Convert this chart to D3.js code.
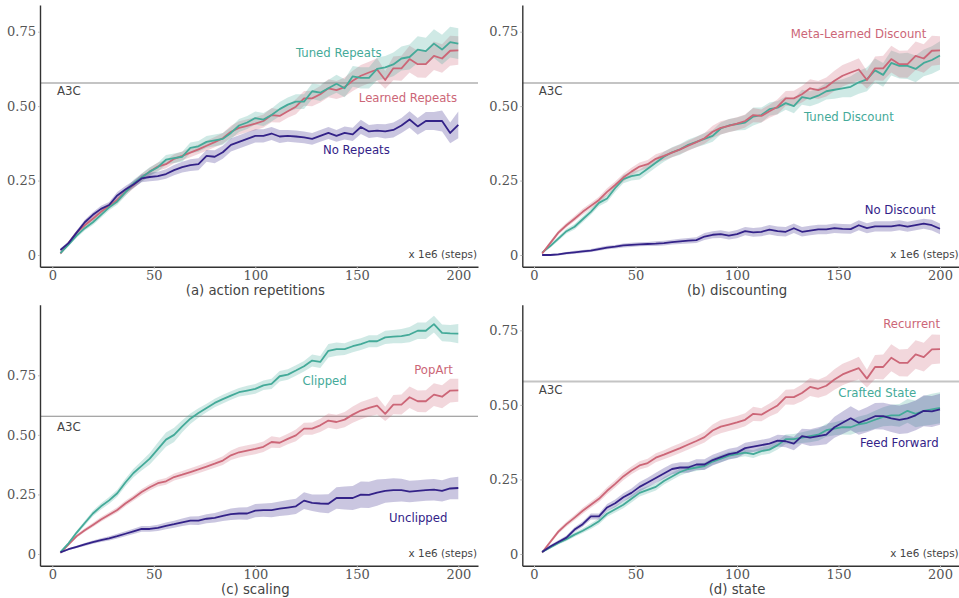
<!DOCTYPE html>
<html><head><meta charset="utf-8">
<script src="https://cdn.jsdelivr.net/npm/d3@7/dist/d3.min.js"></script>
<style>body{margin:0;background:#fff} svg{display:block}</style>
</head><body><svg id="chart" width="959" height="598"></svg>
<script>
// ---------- DATA ----------
const steps = [4,8,12,16,20,24,28,32,36,40,44,48,52,56,60,64,68,72,76,80,84,88,92,96,100,
  104,108,112,116,120,124,128,132,136,140,144,148,152,156,160,164,168,172,176,180,184,188,192,196,200];

// full agent (shown as Learned Repeats / Meta-Learned Discount / PopArt / Recurrent)
const baseline = [0.005,0.04,0.075,0.1,0.122,0.145,0.165,0.185,0.212,0.235,
  0.26,0.28,0.297,0.305,0.323,0.333,0.344,0.355,0.367,0.379,
  0.392,0.414,0.427,0.434,0.441,0.45,0.47,0.467,0.483,0.498,
  0.526,0.526,0.54,0.56,0.554,0.564,0.585,0.602,0.613,0.623,
  0.588,0.627,0.627,0.658,0.641,0.641,0.669,0.66,0.686,0.687];
const baselineSpread = [0.004,0.006,0.007,0.008,0.009,0.01,0.01,0.011,0.012,0.012,
  0.013,0.013,0.014,0.014,0.015,0.015,0.016,0.016,0.017,0.017,
  0.018,0.02,0.022,0.022,0.022,0.022,0.024,0.022,0.022,0.025,
  0.025,0.026,0.028,0.03,0.03,0.032,0.034,0.036,0.036,0.038,
  0.03,0.04,0.042,0.045,0.045,0.046,0.048,0.048,0.05,0.048];

const tunedRepeats = [0.006,0.035,0.065,0.09,0.11,0.135,0.16,0.18,0.21,0.24,
  0.26,0.28,0.295,0.32,0.325,0.33,0.36,0.365,0.38,0.385,
  0.39,0.41,0.435,0.445,0.46,0.455,0.47,0.49,0.505,0.515,
  0.515,0.55,0.545,0.56,0.575,0.56,0.6,0.595,0.595,0.625,
  0.63,0.64,0.66,0.665,0.69,0.685,0.71,0.69,0.715,0.71];
const tunedRepeatsSpread = [0.004,0.006,0.007,0.008,0.009,0.01,0.01,0.011,0.012,0.013,
  0.014,0.015,0.015,0.016,0.016,0.017,0.018,0.018,0.02,0.02,
  0.02,0.02,0.022,0.022,0.022,0.022,0.022,0.024,0.024,0.025,
  0.025,0.026,0.028,0.028,0.03,0.03,0.035,0.036,0.036,0.038,
  0.038,0.04,0.04,0.042,0.045,0.045,0.048,0.05,0.052,0.052];

const noRepeats = [0.017,0.04,0.075,0.11,0.135,0.155,0.168,0.2,0.22,0.237,
  0.257,0.262,0.265,0.272,0.285,0.295,0.302,0.305,0.333,0.33,
  0.345,0.37,0.38,0.39,0.4,0.4,0.408,0.398,0.4,0.398,
  0.395,0.39,0.4,0.41,0.4,0.41,0.405,0.43,0.415,0.418,
  0.415,0.42,0.435,0.455,0.432,0.45,0.45,0.45,0.41,0.437];
const noRepeatsSpread = [0.005,0.006,0.007,0.008,0.009,0.01,0.01,0.012,0.012,0.012,
  0.013,0.014,0.015,0.016,0.017,0.018,0.02,0.02,0.02,0.022,
  0.022,0.022,0.022,0.022,0.022,0.022,0.022,0.022,0.02,0.02,
  0.02,0.02,0.02,0.02,0.02,0.022,0.022,0.024,0.022,0.022,
  0.024,0.025,0.025,0.028,0.028,0.03,0.03,0.035,0.035,0.045];

const tunedDiscount = [0.008,0.03,0.055,0.08,0.095,0.12,0.145,0.175,0.19,0.225,
  0.255,0.265,0.27,0.29,0.31,0.33,0.345,0.355,0.37,0.38,
  0.39,0.4,0.425,0.435,0.44,0.445,0.465,0.47,0.49,0.495,
  0.51,0.5,0.53,0.525,0.535,0.55,0.555,0.56,0.565,0.58,
  0.59,0.62,0.605,0.645,0.635,0.635,0.625,0.645,0.655,0.67];
const tunedDiscountSpread = [0.004,0.006,0.007,0.008,0.009,0.01,0.01,0.011,0.012,0.013,
  0.014,0.015,0.016,0.016,0.016,0.017,0.017,0.018,0.018,0.018,
  0.02,0.02,0.02,0.022,0.022,0.025,0.03,0.025,0.022,0.022,
  0.022,0.024,0.025,0.025,0.026,0.028,0.03,0.03,0.035,0.038,
  0.04,0.04,0.04,0.042,0.042,0.044,0.045,0.045,0.046,0.048];

const noDiscount = [0.0,0.0,0.002,0.006,0.009,0.012,0.015,0.02,0.025,0.028,
  0.032,0.034,0.036,0.037,0.038,0.04,0.043,0.046,0.048,0.05,
  0.062,0.068,0.07,0.065,0.07,0.08,0.076,0.078,0.085,0.08,
  0.078,0.09,0.078,0.082,0.086,0.086,0.09,0.088,0.087,0.1,
  0.09,0.096,0.096,0.096,0.1,0.095,0.1,0.105,0.1,0.088];
const noDiscountSpread = [0.002,0.003,0.004,0.004,0.005,0.005,0.005,0.006,0.006,0.006,
  0.007,0.007,0.007,0.007,0.008,0.008,0.008,0.009,0.009,0.01,
  0.012,0.012,0.013,0.013,0.014,0.014,0.015,0.015,0.016,0.016,
  0.016,0.016,0.016,0.016,0.016,0.016,0.016,0.016,0.016,0.017,
  0.017,0.017,0.017,0.017,0.017,0.017,0.017,0.017,0.018,0.018];

const clipped = [0.008,0.045,0.09,0.13,0.17,0.2,0.225,0.255,0.3,0.34,
  0.37,0.4,0.44,0.48,0.5,0.536,0.568,0.592,0.613,0.634,
  0.65,0.665,0.679,0.686,0.693,0.708,0.714,0.746,0.753,0.77,
  0.788,0.812,0.806,0.853,0.86,0.86,0.872,0.881,0.893,0.893,
  0.909,0.912,0.914,0.921,0.937,0.937,0.965,0.928,0.926,0.925];
const clippedSpread = [0.004,0.006,0.008,0.01,0.012,0.013,0.014,0.015,0.016,0.018,
  0.02,0.024,0.028,0.03,0.03,0.025,0.022,0.02,0.018,0.018,
  0.018,0.018,0.018,0.02,0.02,0.02,0.022,0.022,0.022,0.022,
  0.022,0.025,0.025,0.028,0.028,0.025,0.025,0.025,0.025,0.025,
  0.028,0.028,0.03,0.032,0.035,0.035,0.035,0.035,0.035,0.04];

const unclipped = [0.007,0.02,0.03,0.04,0.05,0.058,0.066,0.075,0.085,0.095,
  0.105,0.105,0.11,0.118,0.125,0.133,0.14,0.14,0.148,0.152,
  0.16,0.167,0.17,0.17,0.182,0.184,0.184,0.19,0.195,0.2,
  0.224,0.215,0.212,0.211,0.235,0.235,0.235,0.249,0.248,0.258,
  0.265,0.268,0.268,0.262,0.265,0.268,0.27,0.265,0.275,0.277];
const unclippedSpread = [0.003,0.004,0.005,0.006,0.007,0.008,0.009,0.01,0.01,0.011,
  0.012,0.012,0.013,0.014,0.015,0.016,0.017,0.018,0.019,0.02,
  0.022,0.024,0.025,0.026,0.028,0.028,0.03,0.03,0.032,0.032,
  0.035,0.035,0.038,0.04,0.045,0.048,0.05,0.055,0.055,0.055,
  0.05,0.05,0.048,0.045,0.045,0.045,0.045,0.045,0.045,0.047];

const feedForward = [0.007,0.025,0.04,0.055,0.082,0.1,0.126,0.126,0.156,0.17,
  0.19,0.205,0.225,0.24,0.255,0.27,0.285,0.29,0.29,0.3,
  0.3,0.315,0.325,0.335,0.34,0.355,0.36,0.365,0.37,0.38,
  0.378,0.37,0.395,0.39,0.395,0.4,0.425,0.44,0.455,0.44,
  0.45,0.462,0.462,0.455,0.45,0.455,0.465,0.48,0.478,0.485];
const feedForwardSpread = [0.003,0.005,0.006,0.007,0.008,0.009,0.01,0.01,0.012,0.013,
  0.014,0.015,0.016,0.016,0.017,0.018,0.018,0.018,0.018,0.018,
  0.018,0.018,0.018,0.018,0.018,0.018,0.018,0.018,0.018,0.02,
  0.02,0.022,0.025,0.028,0.03,0.032,0.035,0.038,0.04,0.04,
  0.042,0.044,0.045,0.046,0.048,0.05,0.05,0.052,0.052,0.052];

const craftedState = [0.007,0.022,0.037,0.05,0.065,0.078,0.093,0.11,0.135,0.15,
  0.165,0.185,0.205,0.215,0.225,0.245,0.26,0.275,0.285,0.29,
  0.295,0.31,0.32,0.33,0.335,0.34,0.335,0.345,0.35,0.365,
  0.385,0.385,0.39,0.395,0.4,0.415,0.42,0.425,0.425,0.435,
  0.44,0.45,0.46,0.465,0.465,0.48,0.47,0.48,0.485,0.49];
const craftedStateSpread = [0.003,0.004,0.005,0.006,0.007,0.008,0.009,0.01,0.01,0.011,
  0.012,0.012,0.012,0.012,0.012,0.012,0.012,0.012,0.012,0.012,
  0.012,0.012,0.012,0.012,0.012,0.012,0.013,0.013,0.014,0.015,
  0.016,0.017,0.018,0.02,0.02,0.022,0.022,0.024,0.025,0.026,
  0.028,0.03,0.032,0.035,0.038,0.04,0.045,0.05,0.052,0.052];

const a3cScore = 0.578;
const xTicks = [0, 50, 100, 150, 200];
const yTicks = [0, 0.25, 0.5, 0.75];
const yTickLabels = ['0', '0.25', '0.50', '0.75'];
const titles = ['(a) action repetitions', '(b) discounting', '(c) scaling', '(d) state'];

// ---------- STYLE / LAYOUT ----------
const colors = {teal: '#44aa99', rose: '#cc6677', indigo: '#332288'};

const panels = [
  {title: titles[0], left: 40, right: 478, x0: 52.3, x200: 458.3, top: 5, bottom: 266.7, zero: 255, p75: 31.7,
   titleY: 295, a3c: 'light', a3cLabelY: 0.551,
   series: [
     {name: 'Learned Repeats', mean: baseline, spread: baselineSpread, color: 'rose', lx: 151, ly: 0.526},
     {name: 'Tuned Repeats', mean: tunedRepeats, spread: tunedRepeatsSpread, color: 'teal', lx: 120, ly: 0.677},
     {name: 'No Repeats', mean: noRepeats, spread: noRepeatsSpread, color: 'indigo', lx: 133.3, ly: 0.35}]},
  {title: titles[1], left: 522.3, right: 960, x0: 534, x200: 940, top: 5, bottom: 266.7, zero: 255, p75: 31.7,
   titleY: 295, a3c: 'light', a3cLabelY: 0.551,
   series: [
     {name: 'Tuned Discount', mean: tunedDiscount, spread: tunedDiscountSpread, color: 'teal', lx: 133, ly: 0.461},
     {name: 'Meta-Learned Discount', mean: baseline, spread: baselineSpread, color: 'rose', lx: 126.5, ly: 0.741},
     {name: 'No Discount', mean: noDiscount, spread: noDiscountSpread, color: 'indigo', lx: 162.9, ly: 0.151}]},
  {title: titles[2], left: 40, right: 478, x0: 52.3, x200: 458.3, top: 304.7, bottom: 565.7, zero: 554, p75: 375.3,
   titleY: 594, a3c: 'dark', a3cLabelY: 0.532,
   series: [
     {name: 'PopArt', mean: baseline, spread: baselineSpread, color: 'rose', lx: 178.3, ly: 0.769},
     {name: 'Clipped', mean: clipped, spread: clippedSpread, color: 'teal', lx: 123.3, ly: 0.722},
     {name: 'Unclipped', mean: unclipped, spread: unclippedSpread, color: 'indigo', lx: 165.9, ly: 0.151}]},
  {title: titles[3], left: 522.3, right: 960, x0: 534, x200: 940, top: 304.7, bottom: 565.7, zero: 554, p75: 330.3,
   titleY: 594, a3c: 'light', a3cLabelY: 0.551,
   series: [
     {name: 'Recurrent', mean: baseline, spread: baselineSpread, color: 'rose', lx: 172, ly: 0.769},
     {name: 'Crafted State', mean: craftedState, spread: craftedStateSpread, color: 'teal', lx: 149.9, ly: 0.537},
     {name: 'Feed Forward', mean: feedForward, spread: feedForwardSpread, color: 'indigo', lx: 160.6, ly: 0.37}]}
];

const svg = d3.select('#chart');

panels.forEach(p => {
  const g = svg.append('g');
  const xc = d3.scaleLinear().domain([0, 200]).range([p.x0, p.x200]);
  const yc = d3.scaleLinear().domain([0, 0.75]).range([p.zero, p.p75]);
  const x = d3.scaleLinear().domain([xc.invert(p.left), xc.invert(p.right)]).range([p.left, p.right]);
  const y = d3.scaleLinear().domain([yc.invert(p.bottom), yc.invert(p.top)]).range([p.bottom, p.top]);

  // A3C reference line
  g.append('line')
    .attr('x1', p.left).attr('x2', p.right)
    .attr('y1', y(a3cScore)).attr('y2', y(a3cScore))
    .attr('stroke', p.a3c === 'dark' ? '#8a8a8a' : '#c4c4c4')
    .attr('stroke-width', p.a3c === 'dark' ? 1.1 : 2);

  const area = d3.area()
    .x((d, i) => x(steps[i]))
    .y0(d => y(d[0] - d[1]))
    .y1(d => y(d[0] + d[1]));
  const line = d3.line().x((d, i) => x(steps[i])).y(d => y(d));

  p.series.forEach(s => {
    const pts = s.mean.map((m, i) => [m, s.spread[i]]);
    g.append('path').attr('d', area(pts))
      .attr('fill', colors[s.color]).attr('fill-opacity', 0.26).attr('stroke', 'none');
  });
  p.series.forEach(s => {
    g.append('path').attr('d', line(s.mean))
      .attr('fill', 'none').attr('stroke', colors[s.color]).attr('stroke-width', 1.8)
      .attr('stroke-linejoin', 'round');
  });
  p.series.forEach(s => {
    g.append('text').text(s.name)
      .attr('x', x(s.lx)).attr('y', y(s.ly)).attr('dy', '0.3em')
      .attr('font-family', 'DejaVu Sans').attr('font-size', 11.7)
      .attr('fill', colors[s.color]);
  });

  // axes
  const yAxis = d3.axisLeft(y).tickValues(yTicks)
    .tickFormat((d, i) => yTickLabels[i]).tickSize(2).tickSizeOuter(0).tickPadding(2);
  const xAxis = d3.axisBottom(x).tickValues(xTicks).tickSize(2).tickSizeOuter(0).tickPadding(2);

  const ya = g.append('g').attr('transform', `translate(${p.left},0)`).call(yAxis);
  const xa = g.append('g').attr('transform', `translate(0,${p.bottom})`).call(xAxis);
  [ya, xa].forEach(a => {
    a.select('.domain').attr('stroke', '#333').attr('stroke-width', 1.4);
    a.selectAll('.tick line').attr('stroke', '#bbb').attr('stroke-width', 1);
    a.selectAll('.tick text').attr('font-family', 'DejaVu Serif').attr('font-size', 13).attr('fill', '#555');
  });

  // A3C label
  g.append('text').text('A3C')
    .attr('x', x(2.3)).attr('y', y(p.a3cLabelY)).attr('dy', '0.36em')
    .attr('font-family', 'DejaVu Sans').attr('font-size', 11.8).attr('fill', '#444');

  // unit label
  g.append('text').text('x 1e6 (steps)')
    .attr('x', x(209.2)).attr('y', y(0)).attr('dy', '0.3em').attr('text-anchor', 'end')
    .attr('font-family', 'DejaVu Sans').attr('font-size', 10.4).attr('fill', '#444');

  // panel title
  g.append('text').text(p.title)
    .attr('x', (x(0) + x(200)) / 2).attr('y', p.titleY).attr('text-anchor', 'middle')
    .attr('font-family', 'DejaVu Sans').attr('font-size', 13.3).attr('fill', '#444');
});
</script>
</body></html>
